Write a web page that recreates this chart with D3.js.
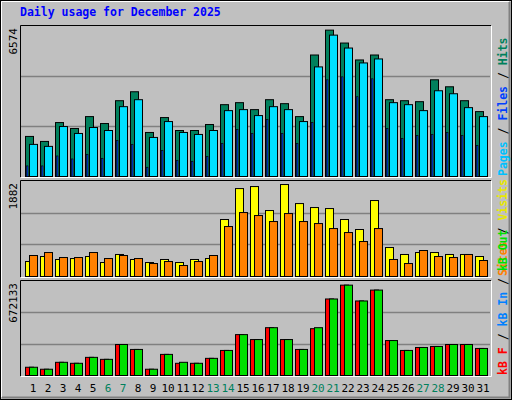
<!DOCTYPE html>
<html><head><meta charset="utf-8">
<script src="https://cdn.jsdelivr.net/npm/d3@7"></script>
<style>body{margin:0;background:#fff}</style></head>
<body><svg id="c" width="512" height="400"></svg>
<script>
const days = d3.range(1, 32);
const weekends = [6,7,13,14,20,21,27,28];
const hits  = [1756,1537,2364,2103,2625,2321,3322,3714,1930,2583,2016,2016,2278,3148,3236,2931,3366,3192,2625,5325,6415,5849,5108,5325,3366,3322,3279,4238,3932,3322,2844];
const files = [1407,1320,2190,1886,2147,2016,3061,3366,1712,2408,1930,1843,2016,2887,2931,2670,3061,2931,2408,4803,6196,5630,4977,5152,3236,3148,2887,3758,3627,3018,2625];
const pages = [464,464,900,769,972,798,1581,1407,406,1146,711,668,885,1451,2060,1886,2496,1886,1451,2364,4238,4368,3497,4281,2103,1668,1799,1843,1930,1799,1364];
const visits = [297,396,337,356,396,277,436,337,277,337,277,337,356,1129,1742,1782,1307,1822,1445,1366,1346,1129,931,1505,574,436,475,475,436,436,396];
const sites  = [416,475,376,376,475,356,416,356,257,297,218,297,416,990,1267,1208,1089,1247,1089,1049,950,871,693,950,337,257,515,396,376,436,317];
const kbF   = [58950,44800,94300,87200,129700,115500,221700,186300,44800,150900,87200,87200,122600,179200,292400,257000,341900,257000,186300,334800,547100,646100,532900,610700,249900,179200,200400,207500,221700,221700,193400];
const kbOut = [58950,44800,94300,87200,129700,115500,221700,186300,44800,150900,94300,87200,122600,179200,292400,257000,341900,257000,186300,341900,547100,646100,532900,610700,249900,179200,200400,207500,221700,221700,193400];
const maxHits = 6574, maxVisits = 1882, maxKB = 672133;

const svg = d3.select("#c");
const font = "DejaVu Sans Mono, monospace";
svg.append("rect").attr("x",0).attr("y",0).attr("width",512).attr("height",400).attr("fill","#c0c0c0");
svg.append("rect").attr("x",0.5).attr("y",0.5).attr("width",511).attr("height",399).attr("fill","none").attr("stroke","#000");
svg.append("path").attr("d","M2,397.5H509.5V2").attr("fill","none").attr("stroke","#808080").attr("stroke-width",2);
svg.append("path").attr("d","M1.5,397V1.5H509").attr("fill","none").attr("stroke","#fff");

svg.append("text").attr("x",20).attr("y",16).attr("font-family",font).attr("font-weight","bold")
  .attr("font-size",11.5).attr("fill","#0000ff").text("Daily usage for December 2025");

const X0 = 20, X1 = 491;
const x = d3.scaleBand().domain(days).range([20, 485]).paddingInner(0).paddingOuter(0);
// day i left edge = 25 + 15*(i-1)
const left = d => 25 + (x(d) - x(1)) * 15 / x.bandwidth() * x.bandwidth() / 15;

function panel(top, bottom, max, series, lbl, legend){
  svg.append("rect").attr("x",X0).attr("y",top).attr("width",X1-X0).attr("height",bottom-top+1).attr("fill","#c0c0c0");
  const y = d3.scaleLinear().domain([0,max]).range([bottom, top+1]);
  [1/3,2/3].forEach(f=>{
    const gy = Math.round(y(max*f))+0.5;
    svg.append("line").attr("x1",X0+1).attr("x2",X1-1).attr("y1",gy).attr("y2",gy).attr("stroke","#808080").attr("stroke-width",1.3);
  });
  series.forEach(s=>{
    svg.append("g").selectAll("rect").data(days).join("rect")
      .attr("x", d => 25 + 15*(d-1) + s.off + 0.5)
      .attr("y", (d,i) => y(s.vals[i]) + 0.5)
      .attr("width", s.w)
      .attr("height",(d,i) => Math.max(0, bottom - y(s.vals[i])))
      .attr("fill", s.color).attr("stroke", "#000").attr("stroke-width", s.sw);
  });
  svg.append("path").attr("d",`M${X0+0.5},${bottom+1}V${top+0.5}H${X1}`).attr("fill","none").attr("stroke","#000");
  svg.append("path").attr("d",`M${X0+1},${bottom+1.5}H${X1+0.5}V${top+1}`).attr("fill","none").attr("stroke","#fff");
  svg.append("text").attr("transform",`translate(17,${top+3}) rotate(-90)`).attr("text-anchor","end")
    .attr("font-family",font).attr("font-size",11).attr("fill","#000").text(lbl);
  const t = svg.append("text").attr("transform",`translate(507,${bottom}) rotate(-90)`)
    .attr("font-family",font).attr("font-size",11.5).attr("font-weight","bold");
  legend.forEach(l=>t.append("tspan").attr("fill",l[1]).text(l[0]));
}

panel(25, 176, maxHits, [
  {vals:hits, off:0, w:8, color:"#00805c", sw:1},
  {vals:files, off:4, w:8, color:"#00e0ff", sw:1},
  {vals:pages, off:1, w:1.5, color:"#0040ff", sw:0.6}
], "6574", [["Pages","#00c0ff"],[" / ","#000"],["Files","#0040ff"],[" / ","#000"],["Hits","#00805c"]]);

panel(180, 276, maxVisits, [
  {vals:visits, off:0, w:8, color:"#ffff00", sw:1},
  {vals:sites, off:4, w:8, color:"#ff8000", sw:1}
], "1882", [["Sites","#ff8000"],[" / ","#000"],["Visits","#e8e800"]]);

panel(280, 375, maxKB, [
  {vals:kbF, off:0, w:8, color:"#ff0000", sw:1},
  {vals:kbOut, off:4, w:8, color:"#00e000", sw:1}
], "672133", [["kB F","#ff0000"],[" / ","#000"],["kB In","#0080ff"],[" / ","#000"],["kB Out","#00e000"]]);

svg.append("g").selectAll("text").data(days).join("text")
  .attr("x", d => 33 + 15*(d-1)).attr("y", 392).attr("text-anchor","middle")
  .attr("font-family",font).attr("font-size",11)
  .attr("fill", d => weekends.includes(d) ? "#00805c" : "#000").text(d => d);
</script></body></html>
